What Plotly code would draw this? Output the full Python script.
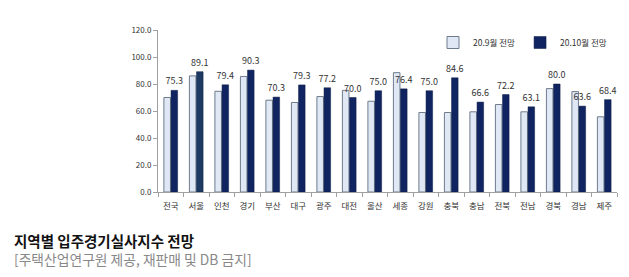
import plotly.graph_objects as go

regions = ["전국", "서울", "인천", "경기", "부산", "대구", "광주", "대전", "울산",
           "세종", "강원", "충북", "충남", "전북", "전남", "경북", "경남", "제주"]
sep_vals = [70.0, 86.0, 74.6, 85.6, 68.0, 66.3, 70.7, 75.3, 67.2,
            88.4, 58.9, 58.9, 59.4, 64.8, 59.4, 76.6, 74.4, 55.7]
oct_vals = [75.3, 89.1, 79.4, 90.3, 70.3, 79.3, 77.2, 70.0, 75.0,
            76.4, 75.0, 84.6, 66.6, 72.2, 63.1, 80.0, 63.6, 68.4]
y_ticks = [0, 20, 40, 60, 80, 100, 120]

W, H = 629, 277
L, R, T, B = 158, 12, 30, 85
ph = H - T - B

def py(pix):
    return (H - B - pix) / ph

def px(pix):
    return (pix - L) / (W - L - R)

font_kr = "Noto Sans CJK KR, Noto Sans, sans-serif"

oct_colors = ["#0f2460"] * len(regions)
oct_colors[1] = "#1d3a63"

fig = go.Figure()
fig.add_trace(go.Bar(
    x=regions, y=sep_vals, name="20.9월 전망",
    marker=dict(color="#dfe8f4", line=dict(color="#6f7c8c", width=1)),
))
fig.add_trace(go.Bar(
    x=regions, y=oct_vals, name="20.10월 전망",
    marker=dict(color=oct_colors, line=dict(color="#0a1a45", width=0.5)),
    text=[f"{v:.1f}" for v in oct_vals], textposition="outside",
    textfont=dict(size=9, color="#333333", family=font_kr),
    constraintext="none", cliponaxis=False,
))

fig.update_layout(
    width=W, height=H,
    margin=dict(l=L, r=R, t=T, b=B),
    paper_bgcolor="white", plot_bgcolor="white",
    barmode="group", bargap=0.44, bargroupgap=0.08,
    font=dict(family=font_kr, size=9, color="#333333"),
    showlegend=True,
    legend=dict(orientation="h", x=px(612), xanchor="right", y=py(28), yanchor="top",
                font=dict(size=8.5, color="#333333"), bgcolor="rgba(0,0,0,0)",
                itemwidth=30, traceorder="normal", tracegroupgap=0),
    xaxis=dict(type="category", showline=True, linecolor="#a0a0a0", linewidth=1,
               ticks="outside", tickson="boundaries", ticklen=4, tickcolor="#a0a0a0",
               tickangle=0, tickfont=dict(size=8.5, color="#333333"), showgrid=False,
               ticklabelstandoff=6),
    yaxis=dict(range=[0, 120], tickvals=y_ticks, ticktext=[f"{v:.1f}" for v in y_ticks],
               showline=True, linecolor="#a0a0a0", linewidth=1, ticks="outside",
               ticklen=4, tickcolor="#a0a0a0", showgrid=False, zeroline=False,
               tickfont=dict(size=8, color="#333333")),
    annotations=[
        dict(text="<b>지역별 입주경기실사지수 전망</b>", xref="paper", yref="paper",
             x=px(12), y=py(240), xanchor="left", yanchor="middle", showarrow=False,
             font=dict(size=14.5, color="#111111", family=font_kr)),
        dict(text="[주택산업연구원 제공, 재판매 및 DB 금지]", xref="paper", yref="paper",
             x=px(12), y=py(259), xanchor="left", yanchor="middle", showarrow=False,
             font=dict(size=13.8, color="#888888", family=font_kr)),
    ],
)

fig.write_html("out.html")
